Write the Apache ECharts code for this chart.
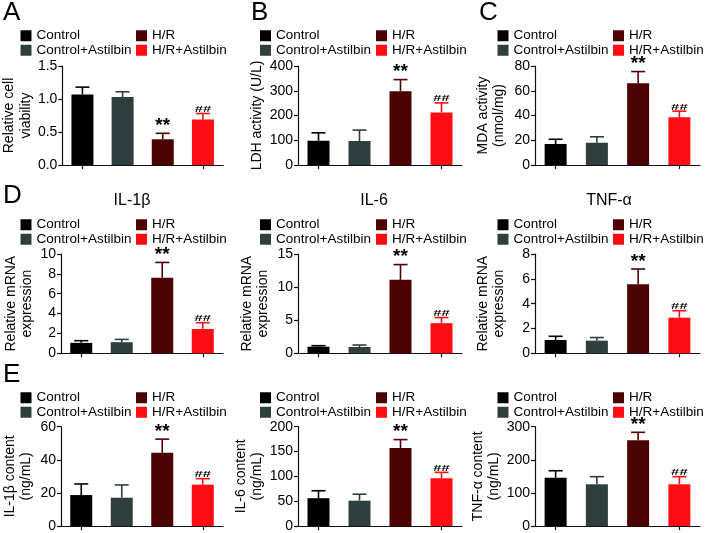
<!DOCTYPE html>
<html><head><meta charset="utf-8">
<script src="https://cdn.jsdelivr.net/npm/echarts@6/dist/echarts.min.js"></script>
<style>html,body{margin:0;padding:0;background:#fff}#c{width:708px;height:533px}</style>
</head><body><div id="c"></div>
<script>
// ---------- data ----------
const groups = ['Control', 'Control+Astilbin', 'H/R', 'H/R+Astilbin'];
const marks = ['', '', '**', '##'];

const viabilityMean = [1.07, 1.03, 0.39, 0.69];
const viabilityErr  = [0.11, 0.08, 0.09, 0.09];
const ldhMean = [98, 97, 298, 212];
const ldhErr  = [32, 44, 47, 39];
const mdaMean = [17, 18, 66, 38.5];
const mdaErr  = [3.8, 4.8, 9.5, 5];
const il1bMrnaMean = [1.05, 1.12, 7.6, 2.45];
const il1bMrnaErr  = [0.22, 0.28, 1.55, 0.63];
const il6MrnaMean = [1.0, 0.95, 11.1, 4.55];
const il6MrnaErr  = [0.15, 0.3, 2.3, 0.85];
const tnfMrnaMean = [1.07, 1.02, 5.56, 2.87];
const tnfMrnaErr  = [0.3, 0.25, 1.23, 0.56];
const il1bContentMean = [18.7, 17.1, 44.2, 25.0];
const il1bContentErr  = [6.7, 7.7, 8.3, 3.6];
const il6ContentMean = [56, 51, 157, 96];
const il6ContentErr  = [15, 13, 17, 12];
const tnfContentMean = [146, 126, 259, 126];
const tnfContentErr  = [21, 23, 24, 23];

const yAxisMax  = [1.5, 400, 80, 10, 15, 8, 60, 200, 300];
const yAxisStep = [0.5, 100, 20, 2, 5, 2, 20, 50, 100];
const yAxisDecimals = [1, 0, 0, 0, 0, 0, 0, 0, 0];
const yAxisNames = ['Relative cell\nviability', 'LDH activity (U/L)', 'MDA activity\n(nmol/mg)',
  'Relative mRNA\nexpression', 'Relative mRNA\nexpression', 'Relative mRNA\nexpression',
  'IL-1β content\n(ng/mL)', 'IL-6 content\n(ng/mL)', 'TNF-α content\n(ng/mL)'];
const panelLetters = ['A', 'B', 'C', 'D', 'E'];
const panelTitles = ['IL-1β', 'IL-6', 'TNF-α'];

const means = [viabilityMean, ldhMean, mdaMean, il1bMrnaMean, il6MrnaMean, tnfMrnaMean, il1bContentMean, il6ContentMean, tnfContentMean];
const errs  = [viabilityErr, ldhErr, mdaErr, il1bMrnaErr, il6MrnaErr, tnfMrnaErr, il1bContentErr, il6ContentErr, tnfContentErr];

// ---------- layout / style ----------
const FONT = 'Liberation Sans, Arial, Helvetica, sans-serif';
const colors = ['#000000', '#2f3e3e', '#4b0303', '#ff0d12'];
const colLeft = [61, 298, 535];
const colWidth = [162, 164, 165];
const rowTop = [66, 254, 426.7];
const rowHeight = [99, 99.3, 99.3];
const legendTop = [28.5, 217.5, 390.5];
const legendLeft = [[20.5, 136], [260, 376], [497.5, 613]];
const nameGaps = [24.75, 27.75, 27.25, 25.25, 26.5, 27.25, 26.5, 27, 27.25];
const letterPos = [[3, 0], [251, 0], [479, 0], [3, 183], [3, 362]];
const titleX = [132, 374, 609];

const grid = [], xAxis = [], yAxis = [], series = [], legend = [];
for (let k = 0; k < 9; k++) {
  const r = Math.floor(k / 3), c = k % 3;
  grid.push({left: colLeft[c], top: rowTop[r], width: colWidth[c], height: rowHeight[r], containLabel: false});
  xAxis.push({
    type: 'category', gridIndex: k, data: groups, boundaryGap: true,
    axisLabel: {show: false},
    axisTick: {show: true, alignWithLabel: true, length: 4, lineStyle: {color: '#111', width: 1.2}},
    axisLine: {lineStyle: {color: '#111', width: 1.2}}
  });
  const dec = yAxisDecimals[k];
  yAxis.push({
    type: 'value', gridIndex: k, min: 0, max: yAxisMax[k], interval: yAxisStep[k],
    splitLine: {show: false},
    axisLine: {show: true, lineStyle: {color: '#111', width: 1.2}},
    axisTick: {show: true, length: 4, lineStyle: {color: '#111', width: 1.2}},
    axisLabel: {fontSize: 14, color: '#000', fontFamily: FONT, margin: 5, formatter: v => v.toFixed(dec)},
    name: yAxisNames[k], nameLocation: 'middle', nameRotate: 90, nameGap: nameGaps[k],
    nameTextStyle: {fontSize: 14, lineHeight: 16.5, color: '#000', fontFamily: FONT}
  });
  for (let g = 0; g < 4; g++) {
    series.push({
      type: 'bar', name: groups[g], xAxisIndex: k, yAxisIndex: k,
      barWidth: 22, barGap: '-100%',
      itemStyle: {color: colors[g]},
      data: [[groups[g], means[k][g]]],
      z: 2
    });
  }
  const mk = means[k], ek = errs[k];
  series.push({
    type: 'custom', xAxisIndex: k, yAxisIndex: k, z: 5,
    data: groups.map((gname, i) => [gname, mk[i], ek[i]]),
    renderItem: (params, api) => {
      const i = params.dataIndex;
      const m = api.value(1), e = api.value(2);
      const p0 = api.coord([api.value(0), m]);
      const p1 = api.coord([api.value(0), m + e]);
      const col = colors[i];
      const children = [
        {type: 'line', shape: {x1: p0[0], y1: p0[1], x2: p1[0], y2: p1[1]}, style: {stroke: col, lineWidth: 1.6}},
        {type: 'line', shape: {x1: p1[0] - 7, y1: p1[1], x2: p1[0] + 7, y2: p1[1]}, style: {stroke: col, lineWidth: 1.6}}
      ];
      const t = marks[i];
      if (t === '**') {
        children.push({type: 'text', x: p1[0], y: p1[1] + 2,
          style: {text: t, font: 'bold 19px ' + FONT, fill: '#000', align: 'center', textAlign: 'center', verticalAlign: 'bottom', textVerticalAlign: 'bottom'}});
      } else if (t === '##') {
        children.push({type: 'text', x: p1[0], y: p1[1] + 0.5, scaleX: 1.35, scaleY: 0.8,
          style: {text: t, font: 'bold 11px ' + FONT, fill: '#000', align: 'center', textAlign: 'center', verticalAlign: 'bottom', textVerticalAlign: 'bottom'}});
      }
      return {type: 'group', children};
    }
  });
  const common = {orient: 'vertical', padding: 0, itemGap: 0, itemWidth: 11, itemHeight: 11, icon: 'rect',
    selectedMode: false, textStyle: {fontSize: 13.5, lineHeight: 14.5, color: '#000', fontFamily: FONT}};
  legend.push(Object.assign({}, common, {left: legendLeft[c][0], top: legendTop[r], data: [groups[0], groups[1]]}));
  legend.push(Object.assign({}, common, {left: legendLeft[c][1], top: legendTop[r], data: [groups[2], groups[3]]}));
}

const graphic = [];
panelLetters.forEach((L, i) => {
  graphic.push({type: 'text', x: letterPos[i][0], y: letterPos[i][1],
    style: {text: L, font: '26px ' + FONT, fill: '#000', align: 'left', textAlign: 'left', verticalAlign: 'top', textVerticalAlign: 'top'}});
});
panelTitles.forEach((T, i) => {
  graphic.push({type: 'text', x: titleX[i], y: 193,
    style: {text: T, font: '16px ' + FONT, fill: '#000', align: 'center', textAlign: 'center', verticalAlign: 'top', textVerticalAlign: 'top'}});
});

const chart = echarts.init(document.getElementById('c'), null, {renderer: 'canvas'});
chart.setOption({
  animation: false,
  backgroundColor: '#fff',
  textStyle: {fontFamily: FONT},
  grid, xAxis, yAxis, series, legend, graphic
});
</script>
</body></html>
